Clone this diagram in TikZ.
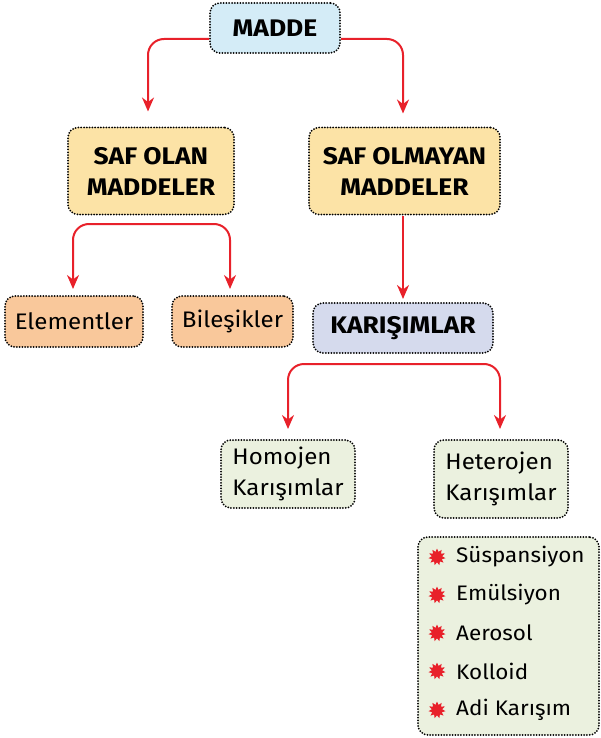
\documentclass[tikz,border=0pt]{standalone}
\usepackage{fontspec}
\setmainfont{Fira Sans}[UprightFeatures={FakeStretch=1.07},BoldFeatures={FakeStretch=1.1}]
\usetikzlibrary{shapes.geometric,arrows.meta}
\definecolor{cblue}{HTML}{D4ECF7}
\definecolor{cyel}{HTML}{FCE3A6}
\definecolor{corange}{HTML}{F9C89B}
\definecolor{clav}{HTML}{D5DAED}
\definecolor{cgreen}{HTML}{EBF1DF}
\definecolor{cred}{HTML}{E8212A}
\begin{document}
\begin{tikzpicture}[x=1pt,y=-1pt,
  box/.style={draw=black, line width=2pt, dash pattern=on 0pt off 2.8pt, line cap=round,
    rounded corners=10pt, inner sep=0pt, align=center},
  head/.style={box, font=\fontsize{24}{31}\selectfont\bfseries},
  plain/.style={box, font=\fontsize{22.5}{31}\selectfont},
  arr/.style={draw=cred, line width=2pt, rounded corners=16pt, -{Stealth[length=14pt,width=12pt]}},
  bullet/.style={star, star points=11, star point ratio=1.6, fill=cred, minimum size=17pt, inner sep=0pt},
  item/.style={anchor=west, inner sep=0pt, font=\fontsize{21}{24}\selectfont}]
\useasboundingbox (0,0) rectangle (600,738);
\node[head, fill=cblue, minimum width=130pt, minimum height=50pt] (madde) at (275,28) {MADDE};
\node[head, fill=cyel, minimum width=166pt, minimum height=87pt] (safolan) at (151,171) {SAF OLAN\\MADDELER};
\node[head, fill=cyel, minimum width=191pt, minimum height=87pt] (safolmayan) at (404.5,171) {SAF OLMAYAN\\MADDELER};
\node[plain, fill=corange, minimum width=138pt, minimum height=51pt] (elem) at (74,321.5) {Elementler};
\node[plain, fill=corange, minimum width=121pt, minimum height=51pt] (bil) at (232.5,321.5) {Bileşikler};
\node[head, fill=clav, minimum width=180pt, minimum height=50pt] (kar) at (403,328) {KARIŞIMLAR};
\node[plain, align=left, fill=cgreen, minimum width=134pt, minimum height=68pt] (homo) at (288,474) {Homojen\\Karışımlar};
\node[plain, align=left, fill=cgreen, minimum width=134pt, minimum height=78pt] (hetero) at (501,479) {Heterojen\\Karışımlar};
\node[box, fill=cgreen, minimum width=181pt, minimum height=198pt] (list) at (508.5,636) {};
\foreach \i/\y/\t in {1/557/Süspansiyon,2/595/Emülsiyon,3/633/Aerosol,4/671/Kolloid,5/710/Adi Karışım}{
  \node[bullet] (s\i) at (437,\y) {};
  \node[item] (t\i) at (456,\y) {\t};
}
\coordinate (b1) at (151,224);
\coordinate (b2) at (394,364);
\draw[arr] ([yshift=-11pt]madde.west) -| ([xshift=-3pt,yshift=15pt]safolan.north);
\draw[arr] ([yshift=-11pt]madde.east) -| ([xshift=-1.5pt,yshift=13pt]safolmayan.north);
\draw[arr] (b1) -| ([xshift=-1pt,yshift=6pt]elem.north);
\draw[arr] (b1) -| ([xshift=-2.5pt,yshift=6pt]bil.north);
\draw[arr] (kar.north |- safolmayan.south) -- ([yshift=3pt]kar.north);
\draw[arr] (b2) -| ([yshift=10pt]homo.north);
\draw[arr] (b2) -| ([xshift=-1pt,yshift=10pt]hetero.north);
\end{tikzpicture}
\end{document}
